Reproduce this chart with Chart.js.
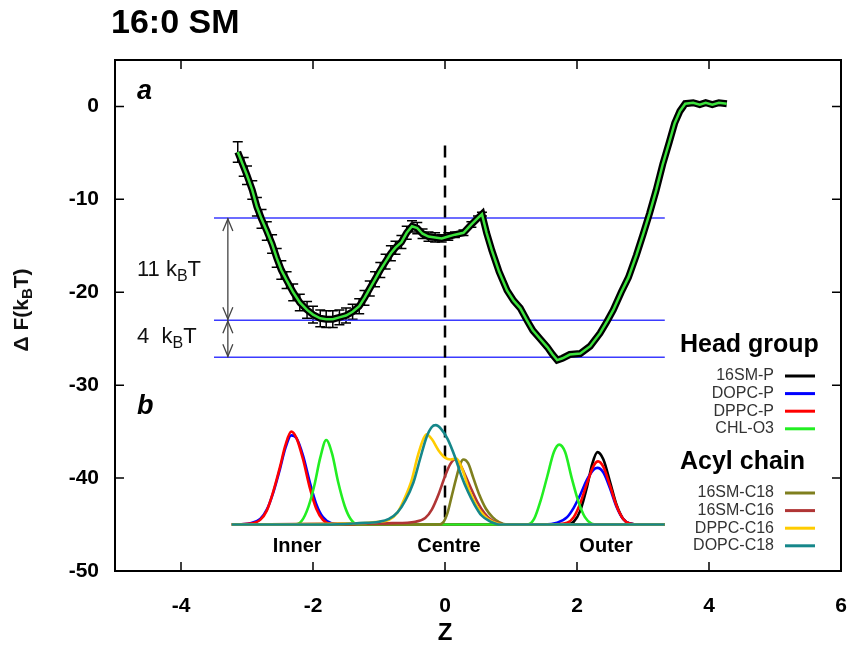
<!DOCTYPE html>
<html>
<head>
<meta charset="utf-8">
<script src="https://cdn.jsdelivr.net/npm/chart.js@4.4.1/dist/chart.umd.min.js"></script>
<style>
  html, body { margin: 0; background: #fff; }
  #wrap { width: 852px; height: 648px; }
</style>
</head>
<body>
<div id="wrap"><canvas id="c"></canvas></div>
<script>
// tick labels
const xTicks = [-4, -2, 0, 2, 4, 6];
const yTicks = [0, -10, -20, -30, -40, -50];

// free energy profile (Z, dF in kBT, error)
const feZ = [-3.14, -3.05, -3.00, -2.92, -2.85, -2.78, -2.70, -2.62, -2.55, -2.48, -2.40, -2.30, -2.20, -2.09, -2.00,
  -1.89, -1.80, -1.70, -1.60, -1.50, -1.40, -1.30, -1.22, -1.14, -1.06, -0.98, -0.90, -0.82, -0.75, -0.66, -0.58,
  -0.50, -0.42, -0.34, -0.25, -0.15, -0.05, 0.05, 0.15, 0.28, 0.40, 0.50, 0.56, 0.63, 0.71, 0.82, 0.94, 1.04, 1.14,
  1.24, 1.33, 1.44, 1.55, 1.63, 1.70, 1.78, 1.89, 2.05, 2.20, 2.35, 2.45, 2.55, 2.67, 2.78, 2.90, 3.00, 3.10, 3.20,
  3.30, 3.40, 3.48, 3.56, 3.64, 3.76, 3.86, 3.95, 4.05, 4.15, 4.27];
const feF = [-4.9, -6.5, -7.4, -9.0, -10.8, -12.1, -13.4, -14.8, -16.3, -17.6, -18.7, -20.0, -21.1, -21.9, -22.4,
  -22.8, -22.9, -22.9, -22.7, -22.5, -22.1, -21.5, -20.6, -19.6, -18.6, -17.6, -16.7, -15.8, -15.2, -14.6, -13.6,
  -12.9, -13.1, -13.7, -14.0, -14.1, -14.2, -14.0, -13.8, -13.6, -12.7, -12.0, -11.6, -13.6, -15.5, -17.8, -19.8, -20.9, -21.7,
  -23.0, -24.1, -25.0, -25.9, -26.7, -27.3, -27.1, -26.7, -26.6, -25.8, -24.4, -23.2, -21.9, -20.0, -18.4, -16.0, -13.8, -11.5, -9.0,
  -6.2, -3.8, -1.8, -0.5, 0.3, 0.4, 0.2, 0.4, 0.2, 0.4, 0.3];
const feErr = [1.1, 1.0, 1.0, 1.0, 1.0, 1.0, 1.0, 1.0, 1.0, 1.0, 0.9, 0.9, 0.9, 0.9, 0.9,
  0.9, 0.9, 0.9, 0.8, 0.8, 0.8, 0.8, 0.8, 0.8, 0.8, 0.8, 0.8, 0.8, 0.7, 0.7, 0.7,
  0.6, 0.6, 0.5, 0.5, 0.5, 0.4, 0.4, 0.3, 0.3, 0.3, 0.2, 0.2];

// barrier levels (kBT) and their extent in Z
const levels = [-12, -23, -27];
const levelZ = [-3.5, 3.33];
const arrowZ = -3.29;

// density profiles, [Z, height] above the baseline of panel b
const densBase = -45;
const d16SMP = [[-3.23, 0], [1.85, 0], [1.95, 0.3], [2.05, 1.5], [2.15, 4.0], [2.23, 6.5], [2.31, 7.8], [2.4, 7.0],
  [2.5, 4.6], [2.6, 2.1], [2.7, 0.6], [2.8, 0.1], [2.95, 0], [3.33, 0]];
const dDOPCP = [[-3.23, 0], [-2.95, 0.15], [-2.8, 0.6], [-2.7, 1.6], [-2.6, 3.5], [-2.5, 6.0], [-2.42, 8.2], [-2.33, 9.6],
  [-2.25, 9.3], [-2.15, 7.4], [-2.05, 4.6], [-1.95, 2.2], [-1.85, 0.8], [-1.72, 0.15], [-1.5, 0],
  [1.5, 0], [1.7, 0.2], [1.85, 0.8], [1.95, 1.8], [2.05, 3.2], [2.15, 4.8], [2.25, 5.9], [2.31, 6.1], [2.4, 5.6],
  [2.5, 3.9], [2.6, 1.9], [2.7, 0.6], [2.8, 0.1], [2.95, 0], [3.33, 0]];
const dDPPCP = [[-3.23, 0], [-2.95, 0.1], [-2.8, 0.5], [-2.7, 1.5], [-2.6, 3.6], [-2.5, 6.2], [-2.42, 8.5], [-2.33, 10.0],
  [-2.25, 9.3], [-2.15, 7.0], [-2.05, 4.0], [-1.95, 1.7], [-1.85, 0.5], [-1.72, 0.05], [-1.5, 0],
  [1.6, 0], [1.85, 0.2], [1.95, 0.8], [2.05, 2.3], [2.15, 4.4], [2.25, 6.3], [2.32, 6.8], [2.4, 6.2], [2.5, 4.2],
  [2.6, 2.0], [2.7, 0.6], [2.8, 0.1], [2.95, 0], [3.33, 0]];
const dCHLO3 = [[-3.23, 0], [-2.28, 0], [-2.17, 0.4], [-2.07, 1.9], [-1.98, 4.2], [-1.89, 7.2], [-1.8, 9.1], [-1.71, 7.6],
  [-1.62, 4.6], [-1.52, 2.0], [-1.43, 0.6], [-1.32, 0], [1.25, 0], [1.35, 0.6], [1.45, 2.6], [1.55, 5.2], [1.65, 7.8],
  [1.73, 8.6], [1.82, 7.8], [1.92, 5.0], [2.02, 2.5], [2.12, 0.8], [2.22, 0.1], [2.3, 0], [3.33, 0]];
const d16SMC18 = [[-3.23, 0], [-0.1, 0], [-0.02, 0.3], [0.04, 1.3], [0.1, 3.0], [0.17, 5.0], [0.23, 6.5], [0.28, 7.0],
  [0.35, 6.6], [0.43, 5.0], [0.52, 3.2], [0.62, 1.7], [0.72, 0.8], [0.82, 0.25], [0.95, 0], [3.33, 0]];
const d16SMC16 = [[-3.23, 0], [-1.5, 0.1], [-0.8, 0.15], [-0.45, 0.3], [-0.3, 0.7], [-0.2, 1.6], [-0.1, 3.2], [0.0, 5.2],
  [0.08, 6.5], [0.15, 7.0], [0.22, 6.6], [0.3, 5.4], [0.4, 3.8], [0.5, 2.3], [0.6, 1.2], [0.7, 0.5], [0.82, 0.1],
  [0.95, 0], [3.33, 0]];
const dDPPCC16 = [[-3.23, 0], [-1.5, 0.1], [-1.0, 0.3], [-0.85, 0.5], [-0.72, 1.3], [-0.62, 2.7], [-0.5, 4.9], [-0.42, 7.2],
  [-0.34, 9.0], [-0.28, 9.7], [-0.2, 9.2], [-0.1, 8.0], [0.0, 7.2], [0.08, 7.0], [0.17, 7.1], [0.26, 6.0], [0.36, 3.8],
  [0.48, 2.0], [0.6, 0.9], [0.72, 0.3], [0.88, 0], [3.33, 0]];
const dDOPCC18 = [[-3.23, 0], [-1.8, 0], [-1.3, 0.15], [-1.0, 0.3], [-0.85, 0.6], [-0.72, 1.3], [-0.6, 2.6], [-0.48, 4.5],
  [-0.38, 7.0], [-0.28, 9.4], [-0.2, 10.5], [-0.14, 10.7], [-0.06, 10.3], [0.04, 9.2], [0.15, 7.3], [0.25, 5.2],
  [0.35, 3.5], [0.45, 2.1], [0.55, 1.0], [0.68, 0.35], [0.85, 0], [3.33, 0]];

const headGroup = [
  { label: '16SM-P', data: d16SMP, color: '#000000' },
  { label: 'DOPC-P', data: dDOPCP, color: '#0000ff' },
  { label: 'DPPC-P', data: dDPPCP, color: '#ff0000' },
  { label: 'CHL-O3', data: dCHLO3, color: '#22ee22' }
];
const acylChain = [
  { label: '16SM-C18', data: d16SMC18, color: '#7f7f1e' },
  { label: '16SM-C16', data: d16SMC16, color: '#b03535' },
  { label: 'DPPC-C16', data: dDPPCC16, color: '#ffcc00' },
  { label: 'DOPC-C18', data: dDOPCC18, color: '#15878a' }
];

const FONT = "'Liberation Sans', Arial, sans-serif";

function densSet(s) {
  return {
    label: s.label,
    data: s.data.map(p => ({ x: p[0], y: densBase + p[1] })),
    borderColor: s.color,
    borderWidth: 2.6,
    pointRadius: 0,
    showLine: true,
    cubicInterpolationMode: 'monotone'
  };
}

const fePoints = feZ.map((z, i) => ({ x: z, y: feF[i] }));

// datasets listed top-most first
const datasets = [
  { label: 'fe', data: fePoints, borderColor: '#3ce23c', borderWidth: 2.5, pointRadius: 0, showLine: true, order: 0 },
  { label: 'feOutline', data: fePoints, borderColor: '#000', borderWidth: 7, pointRadius: 0, showLine: true, order: 1 }
];
let ord = 2;
acylChain.slice().reverse().forEach(s => datasets.push(Object.assign(densSet(s), { order: ord++ })));
headGroup.slice().reverse().forEach(s => datasets.push(Object.assign(densSet(s), { order: ord++ })));
datasets.push({
  label: 'centre', data: [{ x: 0, y: -4.2 }, { x: 0, y: -45 }], borderColor: '#000', borderWidth: 2.5,
  borderDash: [12, 8], pointRadius: 0, showLine: true, order: ord++
});
levels.forEach(l => datasets.push({
  label: 'level', data: levelZ.map(z => ({ x: z, y: l })), borderColor: '#3b3bff', borderWidth: 1.5,
  pointRadius: 0, showLine: true, order: ord++
}));

function subText(ctx, x, y, parts, size, weight) {
  // parts: [text, isSub]
  const w = weight ? weight + ' ' : '';
  parts.forEach(p => {
    if (p[1]) {
      ctx.font = w + Math.round(size * 0.72) + 'px ' + FONT;
      ctx.fillText(p[0], x, y + size * 0.28);
    } else {
      ctx.font = w + size + 'px ' + FONT;
      ctx.fillText(p[0], x, y);
    }
    x += ctx.measureText(p[0]).width;
  });
}

function arrowHead(ctx, x, y, dir) {
  ctx.beginPath();
  ctx.moveTo(x - 5, y + dir * 12);
  ctx.lineTo(x, y);
  ctx.lineTo(x + 5, y + dir * 12);
  ctx.stroke();
}

const decor = {
  id: 'decor',
  beforeDatasetsDraw(chart) {
    const { ctx, scales: { x, y } } = chart;
    ctx.save();
    ctx.strokeStyle = '#000';
    ctx.lineWidth = 1.5;
    feErr.forEach((e, i) => {
      const px = x.getPixelForValue(feZ[i]);
      const top = y.getPixelForValue(feF[i] + e);
      const bot = y.getPixelForValue(feF[i] - e);
      ctx.beginPath();
      ctx.moveTo(px, top); ctx.lineTo(px, bot);
      ctx.moveTo(px - 5, top); ctx.lineTo(px + 5, top);
      ctx.moveTo(px - 5, bot); ctx.lineTo(px + 5, bot);
      ctx.stroke();
    });
    ctx.restore();
  },
  afterDatasetsDraw(chart) {
    const { ctx, chartArea: a, scales: { x, y } } = chart;
    ctx.save();
    // frame and inward ticks
    ctx.strokeStyle = '#000';
    ctx.lineWidth = 2;
    ctx.strokeRect(a.left, a.top, a.right - a.left, a.bottom - a.top);
    ctx.lineWidth = 1.5;
    ctx.beginPath();
    xTicks.forEach(v => {
      const px = x.getPixelForValue(v);
      ctx.moveTo(px, a.bottom); ctx.lineTo(px, a.bottom - 9);
      ctx.moveTo(px, a.top); ctx.lineTo(px, a.top + 9);
    });
    yTicks.forEach(v => {
      const py = y.getPixelForValue(v);
      ctx.moveTo(a.left, py); ctx.lineTo(a.left + 9, py);
      ctx.moveTo(a.right, py); ctx.lineTo(a.right - 9, py);
    });
    ctx.stroke();

    // barrier arrows
    const ax = x.getPixelForValue(arrowZ);
    const p0 = y.getPixelForValue(levels[0]);
    const p1 = y.getPixelForValue(levels[1]);
    const p2 = y.getPixelForValue(levels[2]);
    ctx.strokeStyle = '#444';
    ctx.lineWidth = 1.3;
    ctx.beginPath();
    ctx.moveTo(ax, p0); ctx.lineTo(ax, p2);
    ctx.stroke();
    arrowHead(ctx, ax, p0 + 1, 1);
    arrowHead(ctx, ax, p1 - 1, -1);
    arrowHead(ctx, ax, p1 + 1, 1);
    arrowHead(ctx, ax, p2 - 1, -1);

    ctx.fillStyle = '#111';
    ctx.textBaseline = 'middle';
    ctx.textAlign = 'left';
    subText(ctx, 137, 270, [['11 k', 0], ['B', 1], ['T', 0]], 22);
    subText(ctx, 137, 337, [['4  k', 0], ['B', 1], ['T', 0]], 22);

    // panel letters
    ctx.fillStyle = '#000';
    ctx.font = 'italic bold 27px ' + FONT;
    ctx.fillText('a', 137, 92);
    ctx.fillText('b', 137, 407);

    // leaflet labels
    ctx.textAlign = 'center';
    ctx.font = 'bold 20px ' + FONT;
    const ly = y.getPixelForValue(-47.4);
    ctx.fillText('Inner', x.getPixelForValue(-2.24), ly);
    ctx.fillText('Centre', x.getPixelForValue(0.06), ly);
    ctx.fillText('Outer', x.getPixelForValue(2.44), ly);

    // legend
    const drawGroup = (title, items, ty) => {
      ctx.textAlign = 'left';
      ctx.fillStyle = '#000';
      ctx.font = 'bold 25px ' + FONT;
      ctx.fillText(title, 680, ty);
      ctx.font = '16px ' + FONT;
      items.forEach((s, i) => {
        const iy = ty + 31 + i * 17.6;
        ctx.textAlign = 'right';
        ctx.fillStyle = '#333';
        ctx.fillText(s.label, 774, iy);
        ctx.strokeStyle = s.color;
        ctx.lineWidth = 3;
        ctx.beginPath();
        ctx.moveTo(785, iy); ctx.lineTo(815, iy);
        ctx.stroke();
      });
    };
    drawGroup('Head group', headGroup, 345);
    drawGroup('Acyl chain', acylChain, 462);
    ctx.restore();
  },
  afterDraw(chart) {
    const { ctx } = chart;
    ctx.save();
    ctx.fillStyle = '#000';
    ctx.textBaseline = 'middle';
    ctx.textAlign = 'left';
    ctx.font = 'bold 34px ' + FONT;
    ctx.fillText('16:0 SM', 111, 24);
    ctx.textAlign = 'center';
    ctx.font = 'bold 24px ' + FONT;
    ctx.fillText('Z', 445, 633);
    // y axis title
    ctx.translate(22, 310);
    ctx.rotate(-Math.PI / 2);
    ctx.textAlign = 'left';
    ctx.fillStyle = '#111';
    const parts = [['\u0394 F(k', 0], ['B', 1], ['T)', 0]];
    let w = 0;
    parts.forEach(p => {
      ctx.font = 'bold ' + (p[1] ? 15 : 21) + 'px ' + FONT;
      w += ctx.measureText(p[0]).width;
    });
    subText(ctx, -w / 2, 0, parts, 21, 'bold');
    ctx.restore();
  }
};

new Chart(document.getElementById('c'), {
  type: 'scatter',
  data: { datasets },
  options: {
    responsive: true,
    maintainAspectRatio: false,
    animation: false,
    layout: { padding: { top: 60, right: 11, left: 0, bottom: 0 } },
    plugins: { legend: { display: false }, tooltip: { enabled: false } },
    scales: {
      x: {
        type: 'linear', min: -5, max: 6,
        grid: { display: false },
        border: { display: false },
        afterBuildTicks: s => { s.ticks = xTicks.map(v => ({ value: v })); },
        afterFit: s => { s.height = 77; s.paddingLeft = 0; s.paddingRight = 0; },
        ticks: { color: '#000', padding: 15, font: { family: FONT, size: 21, weight: 'bold' } }
      },
      y: {
        type: 'linear', min: -50, max: 5,
        grid: { display: false },
        border: { display: false },
        afterBuildTicks: s => { s.ticks = yTicks.map(v => ({ value: v })); },
        afterFit: s => { s.width = 115; s.paddingTop = 0; s.paddingBottom = 0; },
        ticks: { color: '#000', padding: 8, font: { family: FONT, size: 21, weight: 'bold' } }
      }
    }
  },
  plugins: [decor]
});
</script>
</body>
</html>
